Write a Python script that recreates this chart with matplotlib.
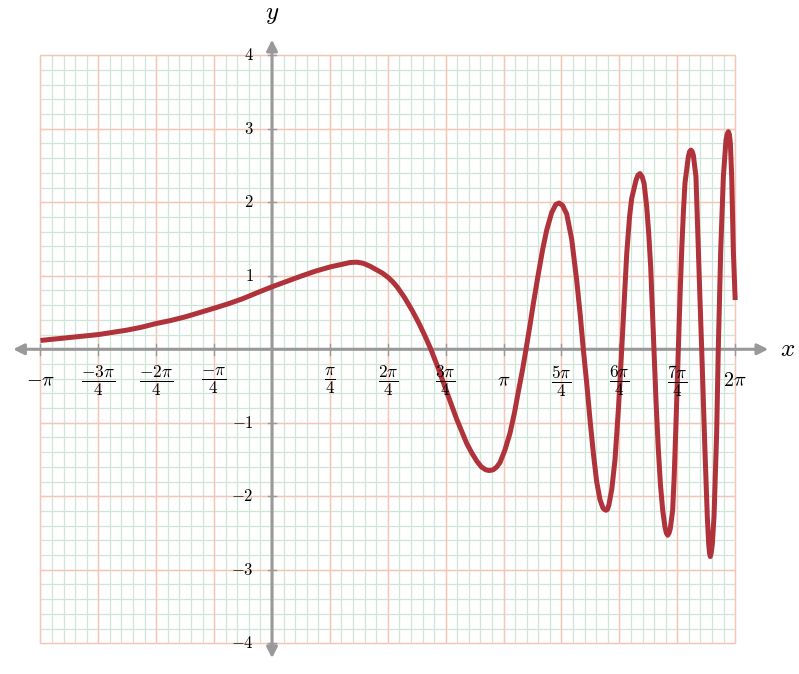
import numpy as np
import matplotlib
matplotlib.use("Agg")
import matplotlib.pyplot as plt
from matplotlib.patches import FancyArrowPatch

plt.rcParams['mathtext.fontset'] = 'cm'

# curve points (x in radians, y)
curve_x = [-3.1416, -2.94, -2.74, -2.55, -2.356, -2.16, -1.971, -1.77, -1.574,
           -1.38, -1.18, -0.98, -0.781, -0.59, -0.393, -0.20, 0.0, 0.19, 0.38,
           0.58, 0.787, 0.92, 1.058, 1.15, 1.238, 1.33, 1.42, 1.50, 1.578, 1.64,
           1.70, 1.80, 1.90, 2.00, 2.08, 2.155, 2.256, 2.37, 2.505, 2.641, 2.71,
           2.777, 2.84, 2.90, 2.948, 3.0, 3.05, 3.093, 3.16, 3.229, 3.29, 3.341,
           3.40, 3.446, 3.50, 3.545, 3.612, 3.67, 3.726, 3.794, 3.85, 3.893, 3.94,
           3.998, 4.065, 4.133, 4.18, 4.223, 4.27, 4.314, 4.36, 4.404, 4.45, 4.49,
           4.51, 4.531, 4.55, 4.57, 4.61, 4.653, 4.70, 4.744, 4.78, 4.812, 4.85,
           4.879, 4.938, 4.965, 4.992, 5.02, 5.047, 5.083, 5.11, 5.137, 5.182,
           5.21, 5.240, 5.27, 5.300, 5.331, 5.35, 5.368, 5.386, 5.403, 5.435,
           5.455, 5.476, 5.512, 5.535, 5.558, 5.58, 5.602, 5.648, 5.665, 5.683,
           5.70, 5.716, 5.751, 5.783, 5.805, 5.829, 5.873, 5.905, 5.924, 5.935,
           5.946, 5.958, 5.973, 5.996, 6.032, 6.054, 6.087, 6.123, 6.159, 6.175,
           6.191, 6.205, 6.218, 6.236, 6.258, 6.2832]
curve_y = [0.12, 0.14, 0.16, 0.18, 0.20, 0.23, 0.26, 0.30, 0.35,
           0.39, 0.44, 0.50, 0.56, 0.62, 0.69, 0.77, 0.85, 0.92, 0.99,
           1.06, 1.12, 1.15, 1.18, 1.185, 1.17, 1.13, 1.08, 1.035, 0.975, 0.915,
           0.845, 0.70, 0.53, 0.34, 0.17, 0.0, -0.26, -0.58, -0.95, -1.28, -1.41,
           -1.52, -1.60, -1.64, -1.65, -1.64, -1.60, -1.54, -1.37, -1.14, -0.86, -0.58,
           -0.27, 0.0, 0.33, 0.62, 1.02, 1.35, 1.62, 1.86, 1.97, 1.99, 1.96,
           1.84, 1.50, 0.94, 0.48, 0.0, -0.47, -0.96, -1.42, -1.80, -2.05, -2.16,
           -2.18, -2.19, -2.18, -2.12, -1.90, -1.50, -0.80, 0.0, 0.70, 1.30, 1.80,
           2.05, 2.30, 2.37, 2.39, 2.35, 2.26, 1.94, 1.58, 1.12, 0.0,
           -0.72, -1.35, -1.85, -2.19, -2.42, -2.50, -2.53, -2.50, -2.44, -2.19,
           -1.75, -1.14, 0.0, 0.72, 1.35, 1.85, 2.26, 2.62, 2.69, 2.71,
           2.69, 2.64, 2.35, 1.35, 0.70, 0.0, -1.37, -2.28, -2.65, -2.77,
           -2.82, -2.77, -2.65, -2.28, -1.14, 0.0, 1.35, 2.35, 2.85, 2.93,
           2.96, 2.92, 2.80, 2.35, 1.35, 0.67]

x_ticks = [-np.pi, -3*np.pi/4, -2*np.pi/4, -np.pi/4, np.pi/4, 2*np.pi/4,
           3*np.pi/4, np.pi, 5*np.pi/4, 6*np.pi/4, 7*np.pi/4, 2*np.pi]
x_labels = [r'$-\pi$', r'$\dfrac{-3\pi}{4}$', r'$\dfrac{-2\pi}{4}$', r'$\dfrac{-\pi}{4}$',
            r'$\dfrac{\pi}{4}$', r'$\dfrac{2\pi}{4}$', r'$\dfrac{3\pi}{4}$', r'$\pi$',
            r'$\dfrac{5\pi}{4}$', r'$\dfrac{6\pi}{4}$', r'$\dfrac{7\pi}{4}$', r'$2\pi$']
y_ticks = [4, 3, 2, 1, -1, -2, -3, -4]
y_labels = ['$4$', '$3$', '$2$', '$1$', '$-1$', '$-2$', '$-3$', '$-4$']

fig = plt.figure(figsize=(7.99, 6.74), dpi=100)
ax = fig.add_axes([0, 0, 1, 1])
ax.set_xlim(-3.690, 7.149)
ax.set_ylim(-4.418, 4.752)
ax.axis('off')

xmin, xmax = -np.pi, 2*np.pi
ymin, ymax = -4, 4

# minor grid (green)
minor_x = np.linspace(xmin, xmax, 61)
minor_y = np.linspace(ymin, ymax, 41)
ax.vlines(minor_x, ymin, ymax, color='#cfe6d7', lw=0.9, zorder=1)
ax.hlines(minor_y, xmin, xmax, color='#cfe6d7', lw=0.9, zorder=1)
# major grid (red)
major_x = np.linspace(xmin, xmax, 13)
major_y = np.arange(ymin, ymax + 1, 1)
ax.vlines(major_x, ymin, ymax, color='#f8c4b5', lw=1.0, zorder=2)
ax.hlines(major_y, xmin, xmax, color='#f8c4b5', lw=1.0, zorder=2)

# axes with arrows
axis_col = '#999999'
ax.add_patch(FancyArrowPatch((-3.55, 0), (6.77, 0), arrowstyle='<|-|>',
                             mutation_scale=16, color=axis_col, lw=2.2, zorder=3))
ax.add_patch(FancyArrowPatch((0, -4.24), (0, 4.25), arrowstyle='<|-|>',
                             mutation_scale=16, color=axis_col, lw=2.2, zorder=3))

# tick marks
tk_x = 0.06
tk_y = 0.075
for t in x_ticks:
    ax.plot([t, t], [-tk_y, tk_y], color=axis_col, lw=1.0, zorder=3)
for t in y_ticks:
    ax.plot([-tk_x, tk_x], [t, t], color=axis_col, lw=1.0, zorder=3)

for t, lab in zip(x_ticks, x_labels):
    fs = 12.5 if 'dfrac' in lab else 14.5
    ax.text(t, -0.43, lab, ha='center', va='center', fontsize=fs, zorder=5)
for t, lab in zip(y_ticks, y_labels):
    ax.text(-0.25, t, lab, ha='right', va='center', fontsize=12, zorder=5)

ax.text(6.99, 0.0, '$x$', ha='center', va='center', fontsize=18)
ax.text(0.0, 4.56, '$y$', ha='center', va='center', fontsize=18)

ax.plot(curve_x, curve_y, color='#b0323a', lw=3.6, solid_joinstyle='round',
        solid_capstyle='butt', zorder=4)

fig.savefig('out.png', dpi=100)
